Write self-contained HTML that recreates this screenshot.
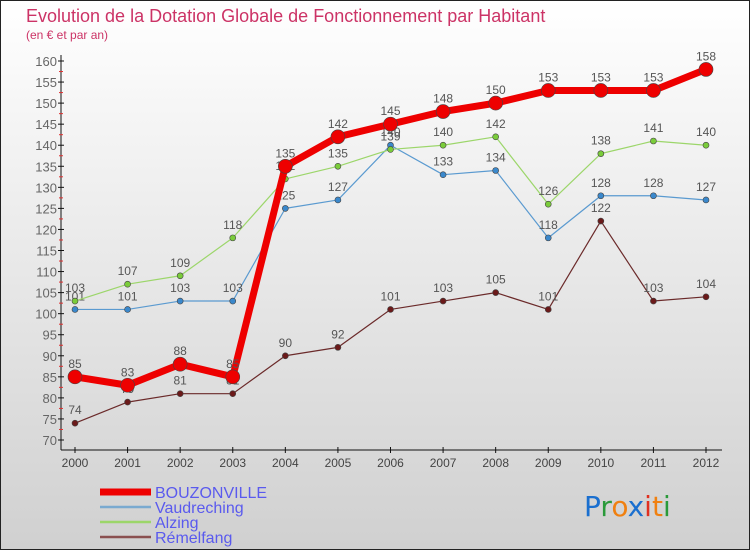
<!DOCTYPE html>
<html><head><meta charset="utf-8"><style>
html,body{margin:0;padding:0}
body{width:750px;height:550px;overflow:hidden;font-family:"Liberation Sans",sans-serif}
</style></head><body>
<svg width="750" height="550" viewBox="0 0 750 550" xmlns="http://www.w3.org/2000/svg">
<defs><linearGradient id="bg" x1="0" y1="0" x2="0" y2="1"><stop offset="0" stop-color="#ffffff"/><stop offset="1" stop-color="#d0d0d0"/></linearGradient></defs>
<rect x="0.5" y="0.5" width="749" height="549" fill="url(#bg)" stroke="#222"/>
<text x="26" y="22" font-size="18" fill="#cc3366">Evolution de la Dotation Globale de Fonctionnement par Habitant</text>
<text x="26" y="39" font-size="12" fill="#cc3366">(en € et par an)</text>
<g id="axes"></g>
<g id="series"></g>
<g id="legend"></g>
<text x="584" y="516" font-size="28" font-family="'DejaVu Sans',sans-serif"><tspan fill="#1a6fcf">P</tspan><tspan fill="#2a9a3a">r</tspan><tspan fill="#f08010">o</tspan><tspan fill="#1a6fcf">x</tspan><tspan fill="#e03020">i</tspan><tspan fill="#f08010">t</tspan><tspan fill="#2a9a3a">i</tspan></text>
</svg>
<script>
const years=[2000,2001,2002,2003,2004,2005,2006,2007,2008,2009,2010,2011,2012];
const yTicks=[70,75,80,85,90,95,100,105,110,115,120,125,130,135,140,145,150,155,160];
const bouzonville=[85,83,88,85,135,142,145,148,150,153,153,153,158];
const vaudreching=[101,101,103,103,125,127,140,133,134,118,128,128,127];
const alzing=[103,107,109,118,132,135,139,140,142,126,138,141,140];
const remelfang=[74,79,81,81,90,92,101,103,105,101,122,103,104];
const NS="http://www.w3.org/2000/svg";
const x=i=>75+i*(706-75)/12;
const y=v=>440-(v-70)*(440-61)/90;
function el(t,a,p){const e=document.createElementNS(NS,t);for(const k in a)e.setAttribute(k,a[k]);p.appendChild(e);return e;}
const axes=document.getElementById('axes');
let yl=el('line',{x1:61,y1:55,x2:61,y2:450,stroke:'#111'},axes);


let xl=el('line',{x1:61,y1:450,x2:722,y2:450,stroke:'#111'},axes);


yTicks.forEach(v=>{
 el('line',{x1:58,y1:y(v),x2:64,y2:y(v),stroke:'#111'},axes);
 if(v<160) el('line',{x1:59,y1:y(v+2.5),x2:63,y2:y(v+2.5),stroke:'#e03030'},axes);
 const t=el('text',{x:57,y:y(v)+5,'text-anchor':'end','font-size':13,fill:'#666'},axes);
 t.textContent=v;
 
 
});
years.forEach((yr,i)=>{
 el('line',{x1:x(i),y1:447,x2:x(i),y2:453,stroke:'#111'},axes);
 const t=el('text',{x:x(i),y:467,'text-anchor':'middle','font-size':12,fill:'#444'},axes);
 t.textContent=yr;
 
 
});
const sg=document.getElementById('series');
function series(data,color,w,r,name,dot){
 const g=el('g',{},sg);
 
 
 const p=el('polyline',{points:data.map((v,i)=>x(i)+','+y(v)).join(' '),fill:'none',stroke:color,'stroke-width':w,'stroke-linejoin':'round'},g);
 
 
 data.forEach((v,i)=>{
  const c=el('circle',{cx:x(i),cy:y(v),r:r,fill:dot,stroke:'#444','stroke-width':0.6},g);
  
  
  const t=el('text',{x:x(i),y:y(v)-9,'text-anchor':'middle','font-size':12,fill:'#555'},g);
  t.textContent=v;
  
  
 });
}
series(remelfang,'#6b2a2a',1.2,3,'remelfang','#6b1a1a');
series(vaudreching,'#5a9ad0',1.2,3,'vaudreching','#3a88cc');
series(alzing,'#9cd66a',1.2,3,'alzing','#7acc3a');
series(bouzonville,'#ee0000',7,7,'bouzonville','#ee0000');
const lg=document.getElementById('legend');
const items=[['BOUZONVILLE','#ee0000',7],['Vaudreching','#7aaad0',2.5],['Alzing','#9cd66a',2.5],['Rémelfang','#8a5050',2.5]];
items.forEach((it,k)=>{
 const yy=492+k*15;
 const g=el('g',{},lg);
 
 
 el('line',{x1:100,y1:yy,x2:151,y2:yy,stroke:it[1],'stroke-width':it[2]},g);
 const t=el('text',{x:155,y:yy+6,'font-size':16,fill:'#5a5aee'},g);
 t.textContent=it[0];
});
</script>
</body></html>
